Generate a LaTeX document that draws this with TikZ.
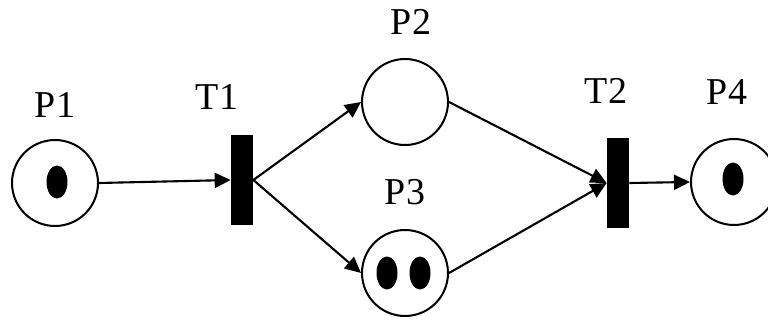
\documentclass[tikz,border=0pt]{standalone}
\usepackage{fontspec}
\setmainfont{Liberation Serif}
\usetikzlibrary{arrows.meta}
\tikzset{
  place/.style={circle, draw=black, line width=1.15pt, minimum size=1.72cm, inner sep=0pt},
  trans/.style={rectangle, fill=black, minimum width=0.44cm, minimum height=1.8cm, inner sep=0pt},
  flow/.style={draw=black, line width=1.2pt, -{Triangle[length=0.32cm,width=0.3cm]}},
  lab/.style={anchor=base, font=\fontsize{21.6}{26}\selectfont}
}
\newcommand{\TokenAt}[1]{%
  \fill (#1) ellipse [x radius=0.21cm, y radius=0.33cm];
}

\begin{document}
\begin{tikzpicture}[x=0.02cm, y=-0.02cm]
  \useasboundingbox (0,0) rectangle (768,324);

  % places and transitions
  \node[place] (p1) at (55,183) {};
  \node[place] (p2) at (405,102) {};
  \node[place] (p3) at (405,273) {};
  \node[place] (p4) at (734,182) {};
  \node[trans] (t1) at (242,180) {};
  \node[trans] (t2) at (618,183) {};

  % marking
  \TokenAt{57,182}
  \TokenAt{387,273}
  \TokenAt{420,273}
  \TokenAt{733,179}

  \node[lab] (p1lab) at (55,118) {P1};
  \node[lab] (t1lab) at (217,110) {T1};
  \node[lab] (p2lab) at (411,35) {P2};
  \node[lab] (p3lab) at (405,205) {P3};
  \node[lab] (t2lab) at (606,104) {T2};
  \node[lab] (p4lab) at (727,105) {P4};

  \draw[flow] (p1.east) -- (t1.west);
  \draw[flow] (t1.east) -- (p2.west);
  \draw[flow] (t1.east) -- (p3.west);
  \draw[flow] (p2.east) -- (t2.west);
  \draw[flow] (p3.east) -- (t2.west);
  \draw[flow] (t2.east) -- (p4.west);
\end{tikzpicture}
\end{document}
